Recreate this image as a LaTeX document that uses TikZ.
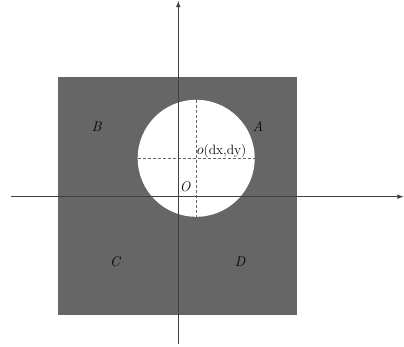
\documentclass[tikz,border=0pt]{standalone}
\usepackage{tikz}
\begin{document}
\begin{tikzpicture}[x=1pt,y=-1pt,
    lbl/.style={font=\fontsize{14}{14}\selectfont\itshape},
    axis/.style={black!75,line width=1.1pt,-latex}]
  \useasboundingbox (0,0) rectangle (404,347);
  % square with the hole
  \fill[black!60] (57.7,76.7) rectangle (296.7,315);
  \node[circle,fill=white,minimum size=117pt,inner sep=0pt] (hole) at (196.2,158.3) {};
  \draw[black!60,dashed,dash pattern=on 3pt off 2pt,line width=0.6pt] (hole.north) -- (hole.south);
  \draw[black!60,dashed,dash pattern=on 3pt off 2pt,line width=0.6pt] (hole.west) -- (hole.east);
  % axes
  \coordinate (xl) at (11,196.7);
  \coordinate (xr) at (403.5,196.7);
  \coordinate (yb) at (178.3,344);
  \coordinate (yt) at (178.3,1);
  \draw[axis] (xl) -- (xr);
  \draw[axis] (yb) -- (yt);
  % labels
  \node[lbl] (lA) at (258,127) {A};
  \node[lbl] (lB) at (96.7,127) {B};
  \node[lbl] (lC) at (115,262) {C};
  \node[lbl] (lD) at (240,262) {D};
  \node[lbl] (lO) at (185,187) {O};
  \node[font=\fontsize{13.5}{13.5}\selectfont,anchor=south west,inner sep=0.5pt] (lo) at (hole.center) {$o$(dx,dy)};
\end{tikzpicture}
\end{document}
